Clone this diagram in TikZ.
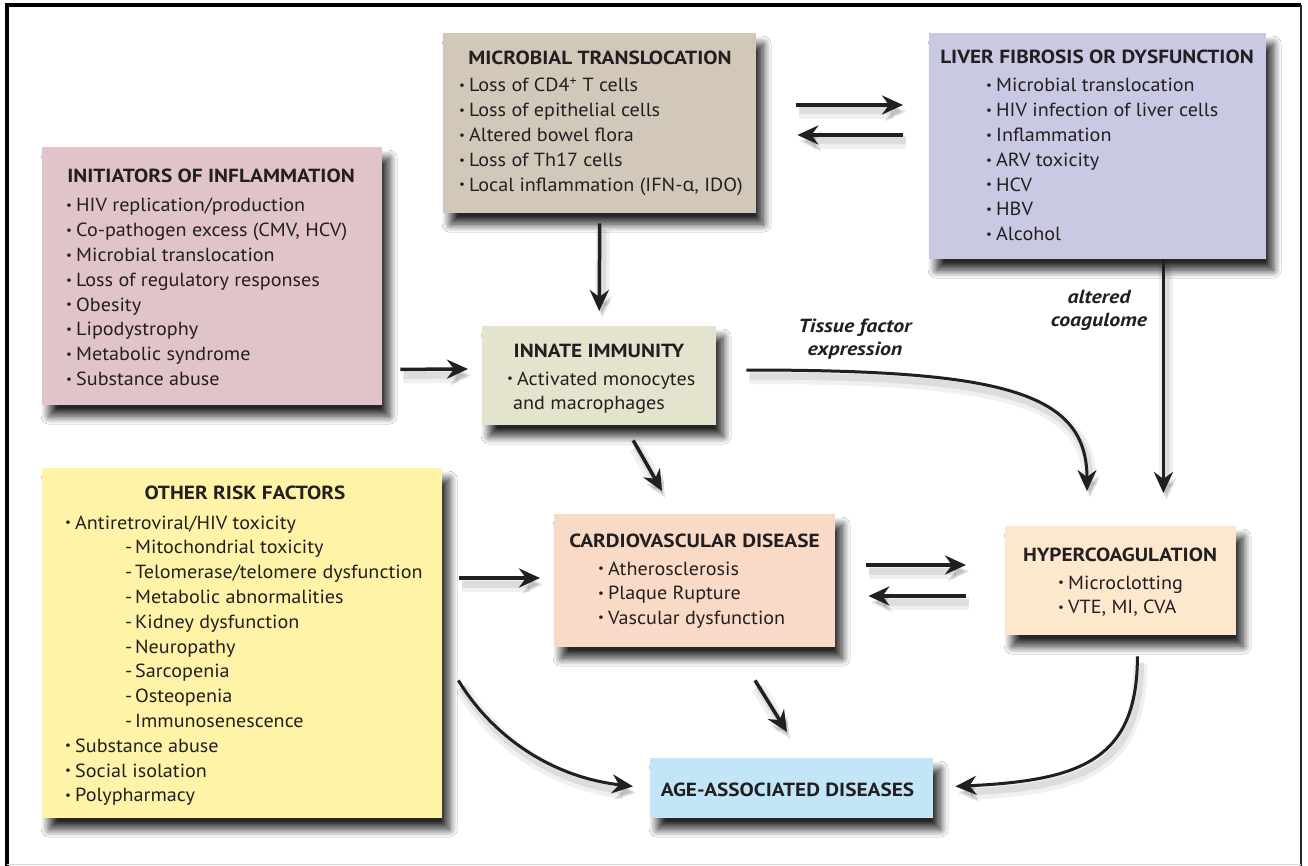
\documentclass[tikz,border=0pt]{standalone}
\usepackage{fontspec}
\setmainfont{PT Sans}[FakeStretch=1.06]
\newfontfamily\ttlfont{PT Sans}[FakeStretch=1.12]
\newfontfamily\lblfont{PT Sans}[FakeStretch=1.15]
\newfontfamily\grkfont{Noto Sans}
\usetikzlibrary{arrows.meta,shadows.blur}
\definecolor{txt}{HTML}{231F20}
\definecolor{cInit}{HTML}{E0C4C7}
\definecolor{cMicro}{HTML}{D2C8BA}
\definecolor{cLiver}{HTML}{C9C9E4}
\definecolor{cInnate}{HTML}{E4E4CE}
\definecolor{cOther}{HTML}{FFF3A8}
\definecolor{cCvd}{HTML}{F9DAC7}
\definecolor{cHyper}{HTML}{FDE7CD}
\definecolor{cAge}{HTML}{C2E6F8}
\newcommand\bl{\makebox[10pt][l]{\raisebox{0.12em}{\scalebox{0.65}{\textbullet}}}}
\newcommand\dl{\makebox[10pt][l]{-}}
\tikzset{
  box/.style={rectangle, inner sep=0pt, draw=none, anchor=north west,
    blur shadow={shadow xshift=7pt, shadow yshift=-11pt, shadow blur radius=8pt,
      shadow opacity=85, shadow blur steps=14}},
  ttl/.style={anchor=base, inner sep=0pt, text=txt,
    font=\fontsize{19}{24}\ttlfont\bfseries},
  lst/.style={anchor=base west, inner sep=0pt, text=txt,
    font=\fontsize{19}{24.8}\selectfont},
  lbl/.style={anchor=base, inner sep=0pt, text=txt,
    font=\fontsize{19}{23}\lblfont\bfseries\itshape},
  arr/.style={line width=3.5pt, draw=txt,
    -{Stealth[length=21pt,width=19pt,inset=7pt]},
    preaction={draw=black, opacity=0.06, line width=14pt,
      transform canvas={shift={(3pt,-7pt)}}},
    preaction={draw=black, opacity=0.08, line width=7pt,
      transform canvas={shift={(3pt,-6pt)}}}},
  carr/.style={arr, line width=3pt},
}
\begin{document}
\begin{tikzpicture}[x=1pt,y=-1pt]
\fill[white] (0,0) rectangle (1308,866);
\useasboundingbox (0,0) rectangle (1308,866);
% frame
\draw[line width=4pt, black] (7,866) -- (7,5.5) -- (1301,5.5);
\draw[line width=2pt, black!85] (1301,5.5) -- (1301,866);
\draw[line width=1pt, black!15] (7,864.5) -- (1301,864.5);

% boxes
\node[box, fill=cInit, minimum width=340pt, minimum height=258pt] (init) at (42,147) {};
\node[box, fill=cMicro, minimum width=313pt, minimum height=180pt] (micro) at (443,33) {};
\node[box, fill=cLiver, minimum width=337pt, minimum height=226pt] (liver) at (929,33) {};
\node[box, fill=cInnate, minimum width=234pt, minimum height=99pt] (innate) at (482,326) {};
\node[box, fill=cOther, minimum width=400pt, minimum height=350pt] (other) at (42,468) {};
\node[box, fill=cCvd, minimum width=281pt, minimum height=133pt] (cvd) at (554,514) {};
\node[box, fill=cHyper, minimum width=231pt, minimum height=109pt] (hyper) at (1005,526) {};
\node[box, fill=cAge, minimum width=283pt, minimum height=60pt] (age) at (650,758) {};

% texts
\node[ttl] (initT) at (211,183) {INITIATORS OF INFLAMMATION};
\node[lst] (initL) at (66,212) {\begin{tabular}[t]{@{}l@{}}
\bl HIV replication/production\\
\bl Co-pathogen excess (CMV, HCV)\\
\bl Microbial translocation\\
\bl Loss of regulatory responses\\
\bl Obesity\\
\bl Lipodystrophy\\
\bl Metabolic syndrome\\
\bl Substance abuse
\end{tabular}};

\node[ttl] (microT) at (600,65) {MICROBIAL TRANSLOCATION};
\node[lst] (microL) at (459,92) {\begin{tabular}[t]{@{}l@{}}
\bl Loss of CD4\textsuperscript{+} T cells\\
\bl Loss of epithelial cells\\
\bl Altered bowel flora\\
\bl Loss of Th17 cells\\
\bl Local inflammation (IFN-{\grkfont α}, IDO)
\end{tabular}};

\node[ttl] (liverT) at (1097,64) {LIVER FIBROSIS OR DYSFUNCTION};
\node[lst] (liverL) at (986,92) {\begin{tabular}[t]{@{}l@{}}
\bl Microbial translocation\\
\bl HIV infection of liver cells\\
\bl Inflammation\\
\bl ARV toxicity\\
\bl HCV\\
\bl HBV\\
\bl Alcohol
\end{tabular}};

\node[ttl] (innateT) at (599,357) {INNATE IMMUNITY};
\node[lst, font=\fontsize{19}{24}\selectfont] (innateL) at (507,385) {\begin{tabular}[t]{@{}l@{}}
\bl Activated monocytes\\
\hspace{6pt}and macrophages
\end{tabular}};

\node[ttl] (otherT) at (245,499) {OTHER RISK FACTORS};
\node[lst] (otherL) at (65,529) {\begin{tabular}[t]{@{}l@{}}
\bl Antiretroviral/HIV toxicity\\
\hspace{60pt}\dl Mitochondrial toxicity\\
\hspace{60pt}\dl Telomerase/telomere dysfunction\\
\hspace{60pt}\dl Metabolic abnormalities\\
\hspace{60pt}\dl Kidney dysfunction\\
\hspace{60pt}\dl Neuropathy\\
\hspace{60pt}\dl Sarcopenia\\
\hspace{60pt}\dl Osteopenia\\
\hspace{60pt}\dl Immunosenescence\\
\bl Substance abuse\\
\bl Social isolation\\
\bl Polypharmacy
\end{tabular}};

\node[ttl] (cvdT) at (694.5,547) {CARDIOVASCULAR DISEASE};
\node[lst, font=\fontsize{19}{24.5}\selectfont] (cvdL) at (598,575) {\begin{tabular}[t]{@{}l@{}}
\bl Atherosclerosis\\
\bl Plaque Rupture\\
\bl Vascular dysfunction
\end{tabular}};

\node[ttl] (hyperT) at (1120,561) {HYPERCOAGULATION};
\node[lst] (hyperL) at (1058,589) {\begin{tabular}[t]{@{}l@{}}
\bl Microclotting\\
\bl VTE, MI, CVA
\end{tabular}};

\node[ttl] (ageT) at (787.5,796) {AGE-ASSOCIATED DISEASES};

% labels
\node[lbl] (tfL) at (855,333) {\begin{tabular}[t]{@{}c@{}}Tissue factor\\expression\end{tabular}};
\node[lbl] (acL) at (1099,304) {\begin{tabular}[t]{@{}c@{}}altered\\coagulome\end{tabular}};

% connectors
\draw[arr] ([shift={(40,72)}]micro.north east) -- ([shift={(-26,72)}]liver.north west);
\draw[arr] ([shift={(-26,102)}]liver.north west) -- ([shift={(41,102)}]micro.north east);
\draw[arr] ([shift={(0,10)}]micro.south) -- ([shift={(0,-15)}]innate.north);
\draw[arr] ([shift={(18,-36)}]init.south east) -- ([shift={(-14,43)}]innate.north west);
\draw[carr] ([shift={(30,44)}]innate.north east) .. controls +(254,0) and +(0,-100) .. ([shift={(82,-35)}]hyper.north west);
\draw[arr] ([shift={(-103,0)}]liver.south east) -- ([shift={(-73,-33)}]hyper.north east);
\draw[arr] ([shift={(34,15)}]innate.south) -- ([shift={(108,-23)}]cvd.north west);
\draw[arr] ([shift={(17,110)}]other.north east) -- ([shift={(-14,64)}]cvd.north west);
\draw[arr] ([shift={(31,51)}]cvd.north east) -- ([shift={(-39,39)}]hyper.north west);
\draw[arr] ([shift={(-39,70)}]hyper.north west) -- ([shift={(33,82)}]cvd.north east);
\draw[arr] ([shift={(201,33)}]cvd.south west) -- ([shift={(137,-26)}]age.north west);
\draw[carr] ([shift={(16,-138)}]other.south east) .. controls +(27,45) and +(-93,-11) .. ([shift={(-17,-32)}]age.south west);
\draw[carr] ([shift={(-99,21)}]hyper.south east) .. controls +(0,104) and +(125,-6) .. ([shift={(22,-32)}]age.south east);
\end{tikzpicture}
\end{document}
